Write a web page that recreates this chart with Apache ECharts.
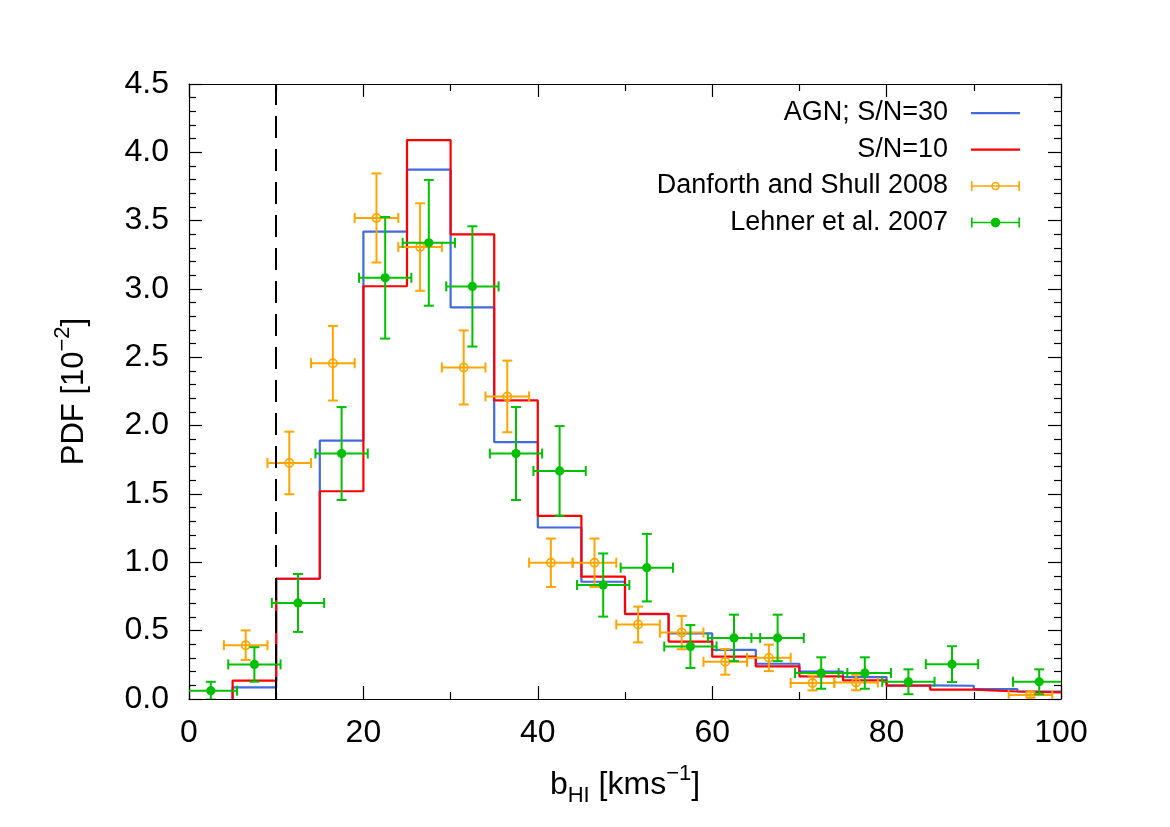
<!DOCTYPE html>
<html>
<head>
<meta charset="utf-8">
<script src="https://cdn.jsdelivr.net/npm/echarts@6/dist/echarts.min.js"></script>
<style>
  html, body { margin: 0; padding: 0; background: #fff; }
  #chart { width: 1170px; height: 827px; }
</style>
</head>
<body>
<div id="chart"></div>
<script>
// histogram bins (left edges, width 5)
const binEdges = [5, 10, 15, 20, 25, 30, 35, 40, 45, 50, 55, 60, 65, 70, 75, 80, 85, 90, 95];
const binEnd = 100;
const agnSN30 = [0.085, 0.88, 1.89, 3.42, 3.873, 2.866, 1.88, 1.255, 0.858, 0.62, 0.48, 0.36, 0.258, 0.2, 0.16, 0.1, 0.097, 0.073, 0.055];
const agnSN10 = [0.134, 0.88, 1.52, 3.02, 4.09, 3.40, 2.185, 1.34, 0.895, 0.623, 0.42, 0.31, 0.238, 0.165, 0.136, 0.097, 0.068, 0.055, 0.048];

// Danforth and Shull 2008
const dsX = [6.5, 11.5, 16.5, 21.5, 26.5, 31.5, 36.5, 41.5, 46.5, 51.5, 56.5, 61.5, 66.5, 71.5, 76.5, 96.5];
const dsY = [0.394, 1.727, 2.457, 3.52, 3.307, 2.426, 2.214, 0.997, 0.997, 0.545, 0.486, 0.272, 0.301, 0.117, 0.121, 0.03];
const dsYErr = [0.108, 0.229, 0.273, 0.326, 0.32, 0.271, 0.262, 0.177, 0.177, 0.131, 0.122, 0.094, 0.097, 0.054, 0.057, 0.02];
const dsXErr = 2.5;

// Lehner et al. 2007
const leX = [2.5, 7.5, 12.5, 17.5, 22.5, 27.5, 32.5, 37.5, 42.5, 47.5, 52.5, 57.5, 62.5, 67.5, 72.5, 77.5, 82.5, 87.5, 97.5];
const leY = [0.061, 0.253, 0.703, 1.796, 3.082, 3.338, 3.019, 1.796, 1.669, 0.834, 0.961, 0.384, 0.447, 0.447, 0.19, 0.19, 0.126, 0.255, 0.126];
const leYErr = [0.065, 0.126, 0.212, 0.34, 0.445, 0.46, 0.44, 0.34, 0.328, 0.231, 0.247, 0.157, 0.17, 0.17, 0.115, 0.115, 0.091, 0.131, 0.091];
const leXErr = 3;

const detectionLimit = 10;

const xTicks = { min: 0, max: 100, interval: 20 };
const yTicks = { min: 0, max: 4.5, interval: 0.5 };

const FONT = 'Liberation Sans, Arial, Helvetica, sans-serif';

// step data: start from zero at first edge
const stepData = (vals) => {
    const out = [[binEdges[0], 0]];
    binEdges.forEach((e, i) => out.push([e, vals[i]]));
    out.push([binEnd, vals[vals.length - 1]]);
    return out;
};

const errData = (xs, ys, es) => xs.map((x, i) => [x, ys[i], es[i]]);

const errorBarItem = (xErr, filled) => (params, api) => {
    const x = api.value(0), y = api.value(1), e = api.value(2);
    const c = api.coord([x, y]);
    const l = api.coord([x - xErr, y]);
    const r = api.coord([x + xErr, y]);
    const t = api.coord([x, y + e]);
    const b = api.coord([x, y - e]);
    const color = api.visual('color');
    const ls = { stroke: color, lineWidth: 2 };
    const cap = 5;
    const seg = (x1, y1, x2, y2) => ({ type: 'line', shape: { x1, y1, x2, y2 }, style: ls });
    return {
        type: 'group',
        children: [
            seg(l[0], c[1], r[0], c[1]),
            seg(l[0], c[1] - cap, l[0], c[1] + cap),
            seg(r[0], c[1] - cap, r[0], c[1] + cap),
            seg(c[0], t[1], c[0], b[1]),
            seg(c[0] - cap, t[1], c[0] + cap, t[1]),
            seg(c[0] - cap, b[1], c[0] + cap, b[1]),
            {
                type: 'circle',
                shape: { cx: c[0], cy: c[1], r: filled ? 4.6 : 4.1 },
                style: filled ? { fill: color } : { fill: 'none', stroke: color, lineWidth: 1.7 }
            }
        ]
    };
};

// legend icons drawn in a 49x10 box
const lineIcon = 'path://M0,4h49v2.2h-49z M0,0h0.01v10h-0.01z';
const barIcon = 'path://M0,4.2h49v1.6h-49z M0,0h1.6v10h-1.6z M47.4,0h1.6v10h-1.6z';
const ringIcon = barIcon + ' M20.2,5a4.3,4.3 0 1 1 8.6,0a4.3,4.3 0 1 1 -8.6,0z M21.8,5a2.7,2.7 0 1 0 5.4,0a2.7,2.7 0 1 0 -5.4,0z';
const dotIcon = barIcon + ' M19.7,5a4.8,4.8 0 1 1 9.6,0a4.8,4.8 0 1 1 -9.6,0z';

const axisBase = {
    type: 'value',
    axisLine: { show: true, onZero: false, lineStyle: { color: '#000', width: 1.2 } },
    axisTick: { show: true, inside: true, length: 13, lineStyle: { color: '#000', width: 1.2 } },
    minorTick: { show: true, length: 7, lineStyle: { color: '#000', width: 1.2 } },
    splitLine: { show: false }
};

const chart = echarts.init(document.getElementById('chart'));
chart.setOption({
    animation: false,
    backgroundColor: '#fff',
    textStyle: { fontFamily: FONT },
    grid: { left: 189, right: 109, top: 84, bottom: 128 },
    legend: {
        orient: 'vertical',
        right: 150,
        top: 95,
        padding: 0,
        align: 'right',
        itemWidth: 49,
        itemHeight: 10,
        itemGap: 0.5,
        selectedMode: false,
        itemStyle: { borderWidth: 0 },
        textStyle: { fontFamily: FONT, fontSize: 27, color: '#000', lineHeight: 36, padding: [0, 18, 0, 0] },
        data: [
            { name: 'AGN; S/N=30', icon: lineIcon },
            { name: 'S/N=10', icon: lineIcon },
            { name: 'Danforth and Shull 2008', icon: ringIcon },
            { name: 'Lehner et al. 2007', icon: dotIcon }
        ]
    },
    xAxis: [
        Object.assign({}, axisBase, {
            position: 'bottom',
            min: xTicks.min, max: xTicks.max, interval: xTicks.interval,
            minorTick: Object.assign({}, axisBase.minorTick, { splitNumber: 2 }),
            axisLabel: { color: '#000', fontSize: 32, fontFamily: FONT, margin: 18 },
            name: '{a|b}{sub|HI}{a| [kms}{sup|\u22121}{a|]}',
            nameLocation: 'middle',
            nameGap: 64,
            nameTextStyle: {
                color: '#000',
                fontFamily: FONT,
                rich: {
                    a: { fontSize: 32, lineHeight: 44, fontFamily: FONT, color: '#000' },
                    sub: { fontSize: 22, lineHeight: 26, verticalAlign: 'bottom', fontFamily: FONT, color: '#000' },
                    sup: { fontSize: 22, lineHeight: 24, verticalAlign: 'top', fontFamily: FONT, color: '#000' }
                }
            }
        }),
        Object.assign({}, axisBase, {
            position: 'top',
            min: xTicks.min, max: xTicks.max, interval: xTicks.interval,
            minorTick: Object.assign({}, axisBase.minorTick, { splitNumber: 2 }),
            axisLabel: { show: false }
        })
    ],
    yAxis: [
        Object.assign({}, axisBase, {
            position: 'left',
            min: yTicks.min, max: yTicks.max, interval: yTicks.interval,
            minorTick: Object.assign({}, axisBase.minorTick, { splitNumber: 5 }),
            axisLabel: {
                color: '#000', fontSize: 32, fontFamily: FONT, margin: 20,
                formatter: (v) => v.toFixed(1)
            },
            name: '{a|PDF [10}{sup|\u22122}{a|]}',
            nameLocation: 'middle',
            nameRotate: 90,
            nameGap: 93,
            nameTextStyle: {
                color: '#000',
                fontFamily: FONT,
                rich: {
                    a: { fontSize: 31, lineHeight: 44, fontFamily: FONT, color: '#000' },
                    sup: { fontSize: 22, lineHeight: 22, verticalAlign: 'top', fontFamily: FONT, color: '#000' }
                }
            }
        }),
        Object.assign({}, axisBase, {
            position: 'right',
            min: yTicks.min, max: yTicks.max, interval: yTicks.interval,
            minorTick: Object.assign({}, axisBase.minorTick, { splitNumber: 5 }),
            axisLabel: { show: false }
        })
    ],
    series: [
        {
            name: 'AGN; S/N=30',
            type: 'line',
            step: 'end',
            symbol: 'none',
            data: stepData(agnSN30),
            lineStyle: { color: '#4169e1', width: 2.2 },
            itemStyle: { color: '#4169e1' },
            z: 2,
            markLine: {
                silent: true,
                symbol: 'none',
                label: { show: false },
                lineStyle: { color: '#000', width: 2, type: [22, 11] },
                data: [{ xAxis: detectionLimit }]
            }
        },
        {
            name: 'S/N=10',
            type: 'line',
            step: 'end',
            symbol: 'none',
            data: stepData(agnSN10),
            lineStyle: { color: '#ff0000', width: 2.2 },
            itemStyle: { color: '#ff0000' },
            z: 3
        },
        {
            name: 'Danforth and Shull 2008',
            type: 'custom',
            clip: true,
            renderItem: errorBarItem(dsXErr, false),
            itemStyle: { color: '#ffa500' },
            data: errData(dsX, dsY, dsYErr),
            z: 4
        },
        {
            name: 'Lehner et al. 2007',
            type: 'custom',
            clip: true,
            renderItem: errorBarItem(leXErr, true),
            itemStyle: { color: '#00c000' },
            data: errData(leX, leY, leYErr),
            z: 5
        }
    ]
});
</script>
</body>
</html>
